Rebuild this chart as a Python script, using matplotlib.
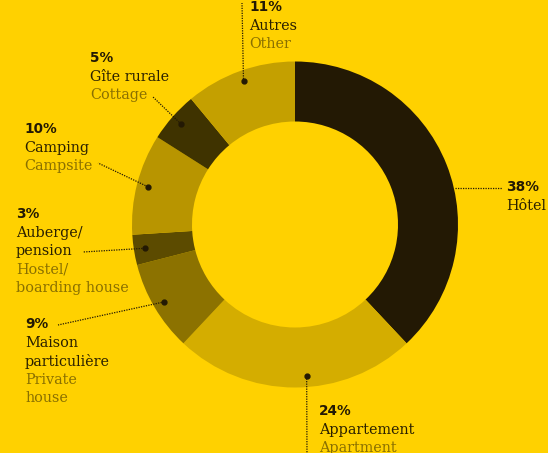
import matplotlib.pyplot as plt
import numpy as np

categories_fr = ['Hôtel', 'Appartement', 'Maison\nparticulière', 'Auberge/\npension',
                 'Camping', 'Gîte rurale', 'Autres']
categories_en = ['', 'Apartment', 'Private\nhouse', 'Hostel/\nboarding house',
                 'Campsite', 'Cottage', 'Other']
shares = [38, 24, 9, 3, 10, 5, 11]
colors = ['#231904', '#d4ad00', '#8c7200', '#5c4b00', '#b89500', '#3f3300', '#c4a000']

bg = '#ffd100'
dark = '#231904'
olive = '#8a7000'

W, H = 548, 453
cx, cy = 295, H - 224.5
r_out, r_in = 163, 103

fig = plt.figure(figsize=(W / 100, H / 100), dpi=100, facecolor=bg)
ax = fig.add_axes([0, 0, 1, 1])
ax.set_facecolor(bg)

wedges, _ = ax.pie(shares, colors=colors, startangle=90, counterclock=False,
                   center=(cx, cy), radius=r_out, frame=True,
                   wedgeprops=dict(width=r_out - r_in, linewidth=0))
ax.set_xlim(0, W)
ax.set_ylim(0, H)
ax.set_aspect('equal')
ax.axis('off')

# label layout (pixel coords from top-left): text x, text top y, leader end
layout = {
    'Hôtel':       dict(tx=506, ty=180, end=(502, 188), edge=(455, 188)),
    'Appartement': dict(tx=319, ty=404, end=(307, 460), shift=4.4),
    'Maison\nparticulière': dict(tx=25, ty=317, end=(58, 325)),
    'Auberge/\npension': dict(tx=16, ty=207, end=(83, 252)),
    'Camping':     dict(tx=24, ty=122, end=(98, 163)),
    'Gîte rurale': dict(tx=90, ty=51, end=(153, 97)),
    'Autres':      dict(tx=249, ty=0, end=(242, 3)),
}

lh = 18.6
for w, fr, en, s in zip(wedges, categories_fr, categories_en, shares):
    L = layout[fr]
    mid = (w.theta1 + w.theta2) / 2 + L.get('shift', 0)
    if 'edge' in L:
        ax_, ay_ = L['edge'][0], H - L['edge'][1]
    else:
        ax_ = cx + 152 * np.cos(np.radians(mid))
        ay_ = cy + 152 * np.sin(np.radians(mid))
        ax.plot(ax_, ay_, 'o', color=dark, markersize=3.5, zorder=5)
    ex, ey = L['end'][0], H - L['end'][1]
    ax.plot([ax_, ex], [ay_, ey], color=dark, linestyle=(0, (1, 1)), linewidth=0.9, zorder=4)

    y = H - L['ty']
    ax.text(L['tx'], y, f'{s}%', fontsize=9.8, fontweight='heavy', color=dark,
            family='DejaVu Sans', va='top', ha='left')
    y -= lh
    for line in fr.split('\n'):
        ax.text(L['tx'], y, line, fontsize=10.4, color='#2a2000',
                family='DejaVu Serif', va='top', ha='left')
        y -= lh
    if en:
        for line in en.split('\n'):
            ax.text(L['tx'], y, line, fontsize=10.4, color=olive,
                    family='DejaVu Serif', va='top', ha='left')
            y -= lh

fig.savefig('out.png', dpi=100, facecolor=bg)
